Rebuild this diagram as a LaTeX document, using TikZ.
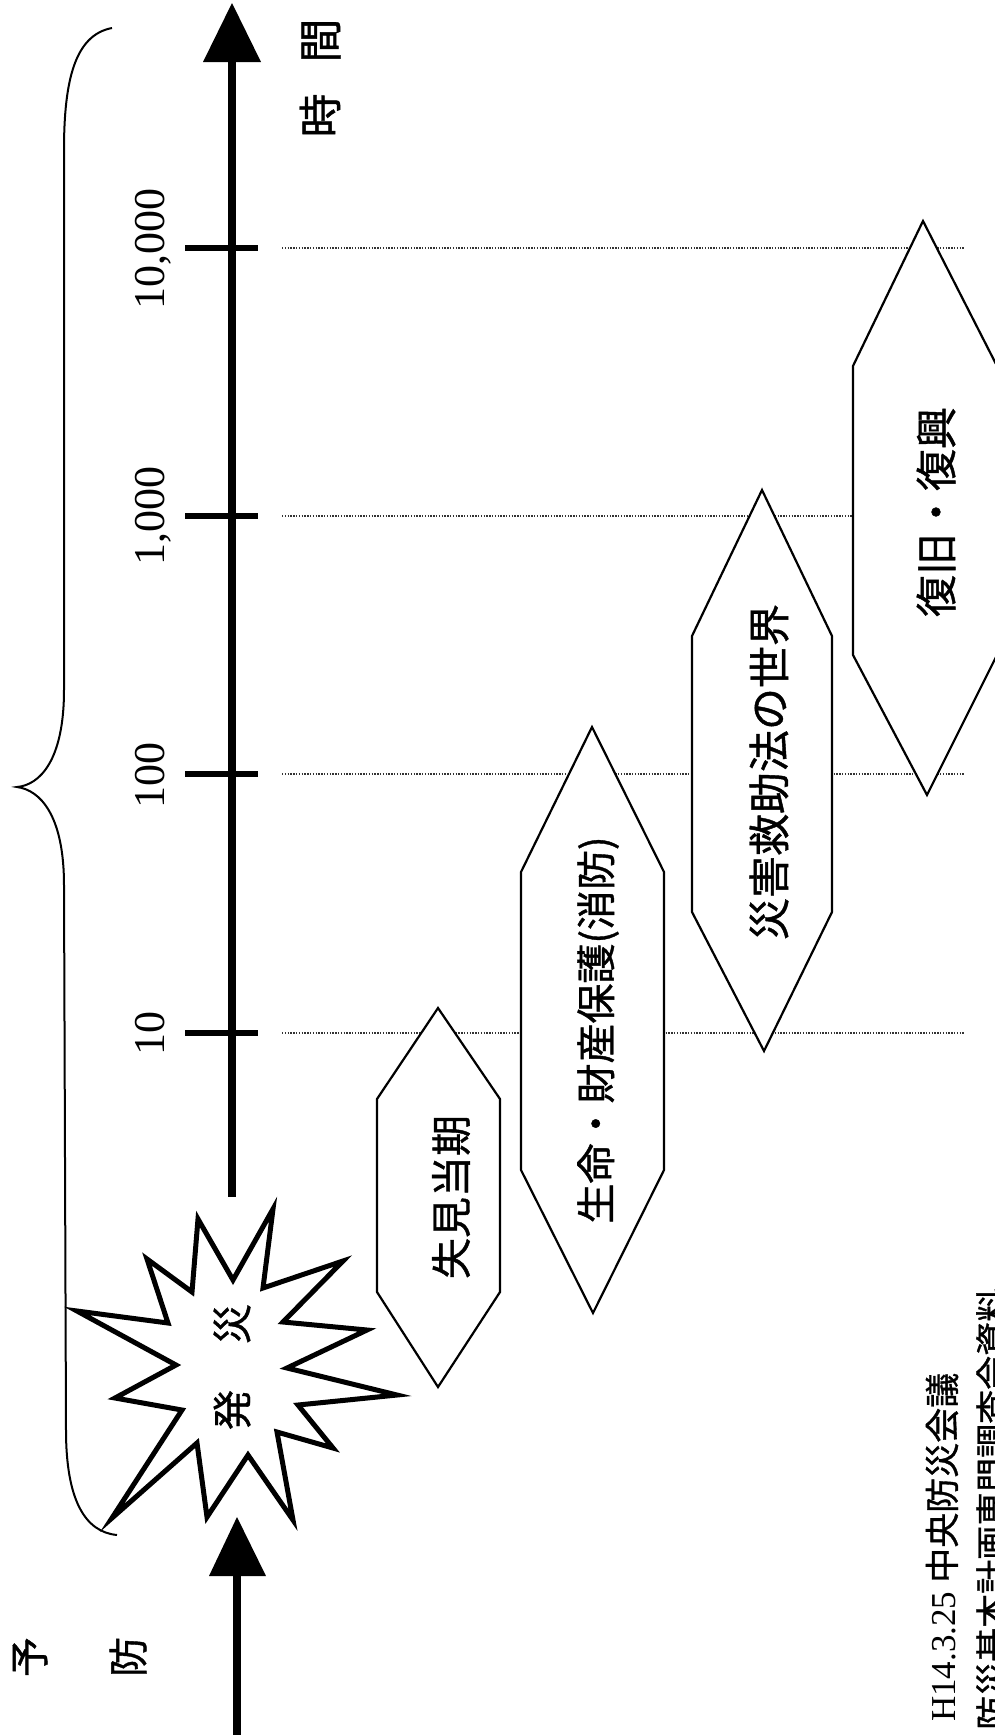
\documentclass[tikz,border=0pt]{standalone}
\usepackage{fontspec}
\setmainfont{Liberation Serif}
\newfontfamily\jp[FakeBold=1]{Noto Sans CJK JP}
\newcommand\setfs[1]{\fontsize{#1}{#1}\selectfont}
\tikzset{
  axisline/.style={line width=8pt, draw=black},
  tickline/.style={line width=5.5pt, draw=black},
  gridline/.style={draw=black!80, line width=1.3pt, dash pattern=on 1.4pt off 1.4pt},
  hexbox/.style={draw=black, line width=2.2pt, fill=white, line join=miter},
  burst/.style={draw=black, line width=5pt, fill=white, line join=miter},
  bracepath/.style={draw=black, line width=2pt},
  rot/.style={rotate=90, inner sep=0pt},
  numlab/.style={rot, anchor=base, font=\setfs{44}},
  jplab/.style={rot, font=\jp\setfs{42}},
}
\begin{document}
\begin{tikzpicture}[x=1pt,y=-1pt]
\useasboundingbox (0,0) rectangle (995,1735);
\clip (0,0) rectangle (995,1735);

% dotted guide lines
\foreach \yy/\nm in {248/a,516/b,774/c,1033/d}{
  \coordinate (g\nm1) at (282,\yy);
  \coordinate (g\nm2) at (965,\yy);
  \draw[gridline] (g\nm1) -- (g\nm2);
}

% brace
\draw[bracepath] (112,28) .. controls (75,35) and (64,80) .. (64,150) -- (64,690)
  .. controls (64,760) and (40,785) .. (17,787)
  .. controls (40,790) and (64,815) .. (64,885) -- (66,1430)
  .. controls (66,1500) and (85,1532) .. (117,1535);

% main time axis
\coordinate (axtip) at (232,3);
\coordinate (axbase) at (232,60);
\coordinate (axend) at (232,1197);
\draw[axisline] (axbase) -- (axend);
\fill[black] (axtip) -- (203,62) -- (261,62) -- cycle;

% ticks
\foreach \yy/\nm in {248/a,516/b,774/c,1033/d}{
  \coordinate (t\nm1) at (185,\yy);
  \coordinate (t\nm2) at (258,\yy);
  \draw[tickline] (t\nm1) -- (t\nm2);
}

% tick labels
\node[numlab] (l4) at (164,249) {10,000};
\node[numlab] (l3) at (164,516) {1,000};
\node[numlab] (l2) at (164,775) {100};
\node[numlab] (l1) at (164,1033) {10};

% time label
\node[jplab, font=\jp\setfs{44}] (jikan) at (320,78) {時\hspace{31pt}間};

% lower arrow
\coordinate (lotip) at (237,1517);
\coordinate (lobase) at (237,1574);
\coordinate (loend) at (237,1745);
\draw[axisline] (lobase) -- (loend);
\fill[black] (lotip) -- (209,1576) -- (266,1576) -- cycle;

% starburst
\draw[burst] (147,1259) -- (168,1323) -- (77,1311) -- (176,1365) -- (115,1398)
  -- (182,1410) -- (112,1518) -- (197,1443) -- (207,1517) -- (248,1455)
  -- (293,1520) -- (277,1432) -- (333,1448) -- (298,1405) -- (397,1395)
  -- (287,1368) -- (367,1330) -- (283,1322) -- (343,1261) -- (263,1288)
  -- (273,1209) -- (233,1280) -- (198,1219) -- (192,1292) -- cycle;
\node[jplab, font=\jp\setfs{40}] (hassai) at (232,1367) {発\hspace{46pt}災};

% yobou
\node[jplab, font=\jp\setfs{40}] (yo) at (30,1657) {予};
\node[jplab, font=\jp\setfs{40}] (bou) at (128,1657) {防};

% hexagons
\path[hexbox] (438,1008) -- (500,1099) -- (500,1292) -- (438,1387) -- (377,1292) -- (377,1099) -- cycle;
\node[jplab, font=\jp\setfs{41}] (h1) at (451,1197) {失見当期};

\path[hexbox] (592,727) -- (664,872) -- (664,1170) -- (593,1313) -- (521,1170) -- (521,872) -- cycle;
\node[jplab, font=\jp\setfs{40}] (h2) at (598,1030) {生命・財産保護(消防)};

\path[hexbox] (762,490) -- (832,636) -- (832,912) -- (764,1051) -- (692,912) -- (692,636) -- cycle;
\node[jplab] (h3) at (769,772) {災害救助法の世界};

\path[hexbox] (923,221) -- (997,366) -- (997,655) -- (927,795) -- (853,655) -- (853,366) -- cycle;
\node[jplab] (h4) at (936,512) {復旧・復興};

% source note
\node[rot, anchor=west] (src1) at (942,1722) {\setfs{35}H14.3.25 {\jp 中央防災会議}};
\node[rot, anchor=west, font=\jp\setfs{34}] (src2) at (992,1730) {防災基本計画専門調査会資料};
\end{tikzpicture}
\end{document}
